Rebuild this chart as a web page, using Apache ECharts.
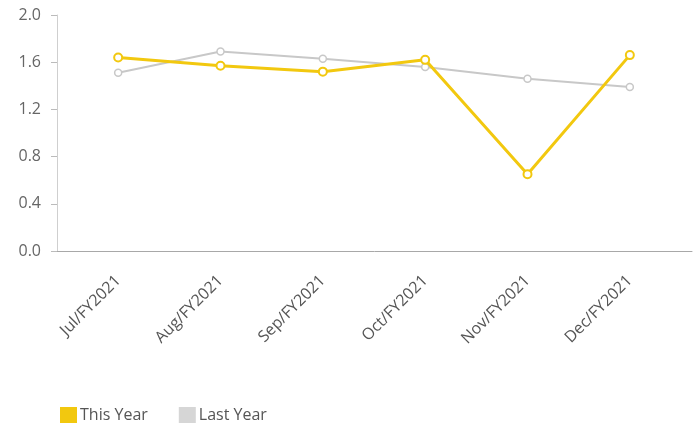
<!DOCTYPE html>
<html>
<head>
<meta charset="utf-8">
<script src="https://cdn.jsdelivr.net/npm/echarts@6/dist/echarts.min.js"></script>
<style>
  html, body { margin: 0; padding: 0; background: #fff; }
  #chart { width: 699px; height: 423px; }
</style>
</head>
<body>
<div id="chart"></div>
<script>
// Monthly values, fiscal year 2021 vs. the prior year
const months = ['Jul/FY2021', 'Aug/FY2021', 'Sep/FY2021', 'Oct/FY2021', 'Nov/FY2021', 'Dec/FY2021'];
const thisYear = [1.64, 1.57, 1.52, 1.62, 0.65, 1.66];
const lastYear = [1.51, 1.69, 1.63, 1.56, 1.46, 1.39];
const yTicks = [0, 0.4, 0.8, 1.2, 1.6, 2.0];

const FONT = '"Open Sans", "Noto Sans", sans-serif';
const YELLOW = '#F2C80F';
const GREY = '#C8C8C8';

const chart = echarts.init(document.getElementById('chart'), null, { renderer: 'canvas' });

chart.setOption({
  animation: false,
  textStyle: { fontFamily: FONT },
  legend: {
    left: 55,
    top: 402,
    itemWidth: 17,
    itemHeight: 16,
    itemGap: 31,
    icon: 'rect',
    textStyle: { fontSize: 16, color: '#555', fontFamily: FONT, padding: [0, 0, 0, -2] },
    data: [
      { name: 'This Year', itemStyle: { color: YELLOW, borderWidth: 0 } },
      { name: 'Last Year', itemStyle: { color: '#D6D6D6', borderWidth: 0 } }
    ]
  },
  grid: [
    // data grid: category bands
    { left: 67, right: 18, top: 15, bottom: 172 },
    // frame grid: axis lines and y labels
    { left: 57, right: 7, top: 15, bottom: 172 }
  ],
  xAxis: [
    {
      type: 'category',
      gridIndex: 0,
      data: months,
      boundaryGap: true,
      axisLine: { show: false },
      axisTick: { show: false },
      axisLabel: {
        rotate: 45,
        margin: 27,
        fontSize: 16,
        color: '#555',
        fontFamily: FONT,
        interval: 0
      }
    },
    {
      type: 'value',
      gridIndex: 1,
      min: 0,
      max: 1,
      axisLine: { show: true, lineStyle: { color: '#A8A8A8', width: 1 } },
      axisTick: { show: false },
      axisLabel: { show: false },
      splitLine: { show: false }
    }
  ],
  yAxis: [
    {
      type: 'value',
      gridIndex: 0,
      min: yTicks[0],
      max: yTicks[yTicks.length - 1],
      interval: 0.4,
      show: false
    },
    {
      type: 'value',
      gridIndex: 1,
      min: yTicks[0],
      max: yTicks[yTicks.length - 1],
      interval: 0.4,
      axisLine: { show: true, lineStyle: { color: '#CFCFCF', width: 1 } },
      axisTick: { show: true, length: 6, inside: false, lineStyle: { color: '#BBBBBB' } },
      axisLabel: {
        margin: 16,
        fontSize: 16,
        color: '#666',
        fontFamily: FONT,
        formatter: v => v.toFixed(1)
      },
      splitLine: { show: false }
    }
  ],
  series: [
    {
      name: 'Last Year',
      type: 'line',
      xAxisIndex: 0,
      yAxisIndex: 0,
      data: lastYear,
      symbol: 'circle',
      symbolSize: 7,
      showAllSymbol: true,
      lineStyle: { color: GREY, width: 2 },
      itemStyle: { color: '#fff', borderColor: GREY, borderWidth: 1.5 },
      z: 2
    },
    {
      name: 'This Year',
      type: 'line',
      xAxisIndex: 0,
      yAxisIndex: 0,
      data: thisYear,
      symbol: 'circle',
      symbolSize: 8,
      showAllSymbol: true,
      lineStyle: { color: YELLOW, width: 3 },
      itemStyle: { color: '#fff', borderColor: YELLOW, borderWidth: 2 },
      z: 3
    }
  ]
});
</script>
</body>
</html>
